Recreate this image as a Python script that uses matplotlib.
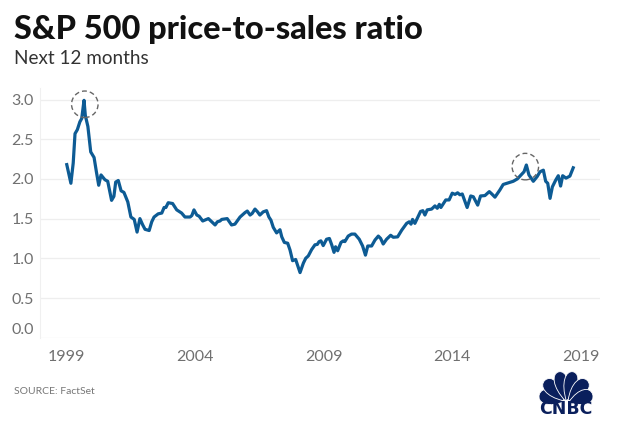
import numpy as np
import matplotlib
matplotlib.use("Agg")
import matplotlib.pyplot as plt
from matplotlib.patches import Ellipse, PathPatch
from matplotlib.path import Path
from matplotlib.transforms import ScaledTranslation

years = [1999.03,1999.19,1999.28,1999.35,1999.44,1999.54,1999.61,1999.70,1999.75,1999.85,1999.96,
 2000.09,2000.18,2000.27,2000.36,2000.51,2000.62,2000.77,2000.86,2000.93,2001.03,2001.14,2001.25,2001.40,2001.52,2001.65,
 2001.76,2001.87,2001.98,2002.07,2002.23,2002.33,2002.42,2002.58,2002.72,2002.81,2002.88,2002.97,
 2003.14,2003.30,2003.49,2003.62,2003.82,2003.89,2003.97,2004.08,2004.17,2004.31,2004.53,2004.79,2004.88,2004.98,
 2005.05,2005.26,2005.43,2005.56,2005.76,2005.95,2006.04,2006.15,2006.23,2006.34,2006.44,2006.53,2006.66,2006.79,2006.88,2006.96,
 2007.05,2007.18,2007.31,2007.38,2007.48,2007.61,2007.70,2007.80,2007.92,2008.09,2008.22,2008.31,2008.41,2008.54,2008.67,2008.76,2008.83,2008.90,2008.99,
 2009.12,2009.23,2009.32,2009.41,2009.47,2009.55,2009.68,2009.77,2009.83,2009.96,2010.09,2010.22,2010.39,2010.52,2010.63,2010.72,2010.87,
 2011.00,2011.13,2011.22,2011.32,2011.45,2011.61,2011.71,2011.88,2012.04,2012.23,2012.33,2012.40,2012.46,2012.55,2012.77,2012.86,2012.94,
 2013.03,2013.20,2013.33,2013.42,2013.50,2013.56,2013.75,2013.88,2014.00,2014.11,2014.21,2014.30,2014.39,2014.58,2014.72,2014.82,2014.99,
 2015.10,2015.27,2015.44,2015.54,2015.66,2015.85,2015.98,2016.17,2016.37,2016.53,2016.70,2016.79,2016.88,2016.98,
 2017.15,2017.30,2017.41,2017.54,2017.63,2017.71,2017.80,2017.89,2018.02,2018.12,2018.21,2018.29,2018.42,2018.57,2018.70]

ratio = [2.18,1.945,2.20,2.57,2.62,2.72,2.76,2.99,2.80,2.66,2.34,
 2.27,2.09,1.92,2.05,1.99,1.97,1.73,1.78,1.96,1.98,1.85,1.83,1.71,1.52,1.49,
 1.33,1.50,1.42,1.365,1.35,1.46,1.52,1.56,1.57,1.64,1.64,1.70,
 1.69,1.61,1.57,1.52,1.52,1.54,1.61,1.545,1.53,1.47,1.50,1.42,1.46,1.47,
 1.49,1.50,1.42,1.43,1.52,1.575,1.595,1.545,1.565,1.62,1.585,1.545,1.585,1.60,1.52,1.48,
 1.39,1.32,1.36,1.27,1.20,1.19,1.105,0.97,0.985,0.82,0.94,1.00,1.03,1.11,1.17,1.175,1.21,1.22,1.16,
 1.24,1.25,1.17,1.075,1.145,1.095,1.20,1.22,1.21,1.28,1.305,1.305,1.24,1.155,1.04,1.155,1.155,
 1.23,1.28,1.25,1.18,1.24,1.29,1.265,1.27,1.355,1.44,1.46,1.43,1.49,1.44,1.59,1.60,1.545,
 1.61,1.62,1.66,1.63,1.68,1.64,1.735,1.735,1.82,1.805,1.825,1.80,1.81,1.64,1.785,1.775,1.67,
 1.785,1.79,1.84,1.81,1.77,1.86,1.93,1.95,1.97,2.00,2.06,2.09,2.175,2.05,
 1.97,2.03,2.09,2.11,1.97,1.945,1.755,1.90,1.985,2.04,1.91,2.04,2.01,2.035,2.14]

y_ticks = [0.0, 0.5, 1.0, 1.5, 2.0, 2.5, 3.0]
y_labels = ["0.0", "0.5", "1.0", "1.5", "2.0", "2.5", "3.0"]
x_ticks = [1999, 2004, 2009, 2014, 2019]
x_labels = ["1999", "2004", "2009", "2014", "2019"]
ring_years = [1999.70, 2016.88]
title = "S&P 500 price-to-sales ratio"
subtitle = "Next 12 months"
source = "SOURCE: FactSet"

W, H = 635, 424
plt.rcParams["font.family"] = ["Lato", "DejaVu Sans"]
fig = plt.figure(figsize=(W / 100, H / 100), dpi=100, facecolor="white")
ax = fig.add_axes([40 / W, 1 - 337.7 / H, 560 / W, (337.7 - 88) / H])
ax.set_xlim(1997.99, 2019.74)
ax.set_ylim(0, 3.145)
for s in ["top", "right", "bottom"]:
    ax.spines[s].set_visible(False)
ax.spines["left"].set_color("#f0f0f0")
ax.spines["left"].set_linewidth(0.8)
ax.set_yticks(y_ticks, y_labels)
ax.set_xticks(x_ticks, x_labels)
ax.tick_params(length=0, labelsize=11.5, labelcolor="#707070")
ax.tick_params(axis="y", pad=4.5)
ax.tick_params(axis="x", pad=8.5)
ax.grid(axis="y", color="#eeeeee", linewidth=0.9)
ax.set_axisbelow(True)
lab0 = ax.get_yticklabels()[0]
lab0.set_transform(lab0.get_transform() + ScaledTranslation(0, 6.9 / 72, fig.dpi_scale_trans))

ax.plot(years, ratio, color="#0d5b94", linewidth=2.3, solid_joinstyle="round")

# dashed rings around the two highs
for ry, dx, dy in zip(ring_years, (0.03, -0.04), (-0.05, -0.02)):
    i = years.index(ry)
    ax.add_patch(Ellipse((years[i] + dx, ratio[i] + dy), 26.5 / 25.75, 26.5 / 79.4,
                         fill=False, edgecolor="#666666", linewidth=1.0,
                         linestyle=(0, (3.5, 2.2)), zorder=4, clip_on=False))

fig.text(14 / W, 1 - 29 / H, title, fontsize=23.4, fontweight=900, color="#111111",
         va="center", ha="left")
fig.text(14 / W, 1 - 59 / H, subtitle, fontsize=13.6, color="#333333", va="center", ha="left")
fig.text(14 / W, 1 - 391 / H, source, fontsize=7.5, color="#777777", va="center", ha="left")

# CNBC logo
ov = fig.add_axes([0, 0, 1, 1], facecolor="none")
ov.set_xlim(0, W)
ov.set_ylim(H, 0)
ov.axis("off")
navy = "#0a1f5c"
cx, cy = 566, 403
for ang, ln, wd, base in [(-72, 25, 12, 3), (-43, 28, 12, 3), (-13, 30, 11, 2),
                          (13, 30, 11, 2), (43, 28, 12, 3), (72, 25, 12, 3)]:
    a = np.deg2rad(ang)
    u = np.array([np.sin(a), -np.cos(a)])
    n = np.array([np.cos(a), np.sin(a)])
    o = np.array([cx, cy]) + u * base
    tip = o + u * ln
    verts = [o, o + u * ln * 0.55 - n * wd * 0.9, tip - n * wd * 0.7, tip,
             tip + n * wd * 0.7, o + u * ln * 0.55 + n * wd * 0.9, o, o]
    codes = [Path.MOVETO, Path.CURVE4, Path.CURVE4, Path.CURVE4,
             Path.CURVE4, Path.CURVE4, Path.CURVE4, Path.CLOSEPOLY]
    ov.add_patch(PathPatch(Path(verts, codes), facecolor=navy, edgecolor="white", linewidth=0.6))
ov.text(565.5, 408.5, "CNBC", fontsize=12.5, fontweight="bold", color=navy,
        family=["DejaVu Sans"], ha="center", va="center")

fig.savefig("out.png", dpi=100, facecolor="white")
